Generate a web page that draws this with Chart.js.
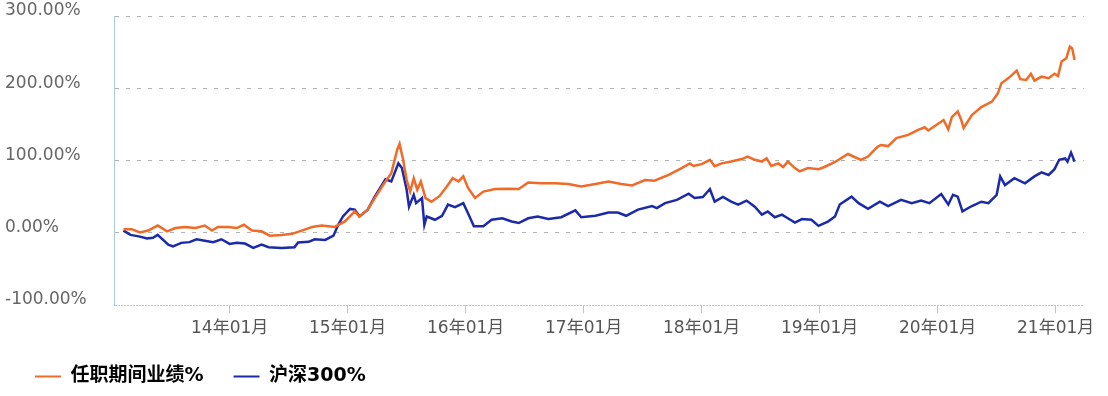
<!DOCTYPE html>
<html>
<head>
<meta charset="utf-8">
<script src="https://cdn.jsdelivr.net/npm/chart.js@4/dist/chart.umd.min.js"></script>
<style>
  html, body { margin: 0; padding: 0; background: #fff; }
  #wrap { width: 1108px; height: 396px; }
</style>
</head>
<body>
<div id="wrap"><canvas id="chart" width="1108" height="396"></canvas></div>
<script>
// 任职期间业绩 vs 沪深300, cumulative return %
const seriesNames = ['任职期间业绩%', '沪深300%'];
const tickYears = [2014, 2015, 2016, 2017, 2018, 2019, 2020, 2021];
const tickLabels = ['14年01月', '15年01月', '16年01月', '17年01月', '18年01月', '19年01月', '20年01月', '21年01月'];
const yTicks = [-100, 0, 100, 200, 300];

// decimal year -> value (%)
const fundT = [
  2013.10, 2013.17, 2013.24, 2013.31, 2013.39, 2013.47, 2013.54, 2013.62, 2013.71, 2013.79, 2013.85, 2013.90, 2013.99,
  2014.06, 2014.12, 2014.19, 2014.27, 2014.34, 2014.44, 2014.53, 2014.61, 2014.70, 2014.78, 2014.89, 2014.98,
  2015.06, 2015.10, 2015.17, 2015.23, 2015.30, 2015.37, 2015.42, 2015.44, 2015.47, 2015.50, 2015.53, 2015.56, 2015.59, 2015.62, 2015.66, 2015.71, 2015.78, 2015.84, 2015.89, 2015.94, 2015.98,
  2016.02, 2016.08, 2016.15, 2016.25, 2016.36, 2016.45, 2016.53, 2016.64, 2016.76, 2016.87, 2016.98,
  2017.10, 2017.21, 2017.32, 2017.41, 2017.52, 2017.60, 2017.72, 2017.83, 2017.90, 2017.93,
  2018.00, 2018.07, 2018.11, 2018.17, 2018.25, 2018.34, 2018.39, 2018.45, 2018.51, 2018.55, 2018.59, 2018.65, 2018.69, 2018.73, 2018.79, 2018.83, 2018.90, 2018.99,
  2019.04, 2019.13, 2019.24, 2019.30, 2019.35, 2019.41, 2019.49, 2019.52, 2019.58, 2019.65, 2019.75, 2019.83, 2019.89, 2019.92, 2019.97,
  2020.05, 2020.09, 2020.12, 2020.17, 2020.20, 2020.22, 2020.29, 2020.37, 2020.46, 2020.51, 2020.54, 2020.60, 2020.67, 2020.70, 2020.75, 2020.79, 2020.82, 2020.88, 2020.94, 2020.99,
  2021.02, 2021.05, 2021.09, 2021.12, 2021.14, 2021.16
];
const fundV = [
  5, 5, 0.5, 3, 10, 2, 6.5, 8, 6.5, 10, 3, 8, 8,
  6.5, 11, 3, 2, -4, -3, -1.5, 3, 8, 10, 8, 16,
  29.5, 22.5, 32, 48, 66, 82.5, 115, 123, 101, 73, 57, 75.5, 59.5, 71, 48, 43, 51, 64, 75.5, 71, 78,
  62, 48, 57, 60.5, 61, 60.5, 69.5, 68.5, 68.5, 67.5, 64,
  67.5, 71, 67.5, 65.5, 73, 72, 80, 89.5, 96, 92.5,
  95, 101, 92, 96, 98.5, 102, 105.5, 101, 98.5, 103, 92.5, 96, 91, 98.5, 89.5, 85, 89.5, 88,
  91, 98, 109, 104.5, 101, 105.5, 119, 121.5, 120, 131, 135.5, 142, 146, 141.5, 147,
  156, 143, 160, 168, 156, 145, 163, 174, 181.5, 193, 207, 214, 224.5, 212.5, 211.5, 220, 210.5, 216, 214, 220,
  217, 237, 241.5, 257.5, 255, 239
];

const hs300T = [
  2013.10, 2013.16, 2013.23, 2013.30, 2013.35, 2013.39, 2013.48, 2013.52, 2013.59, 2013.66, 2013.72, 2013.79, 2013.86, 2013.93,
  2014.00, 2014.06, 2014.13, 2014.20, 2014.27, 2014.33, 2014.44, 2014.55, 2014.58, 2014.67, 2014.72, 2014.81, 2014.88, 2014.92, 2014.96,
  2015.02, 2015.06, 2015.10, 2015.17, 2015.23, 2015.32, 2015.37, 2015.43, 2015.46, 2015.50, 2015.52, 2015.56, 2015.58, 2015.63, 2015.65, 2015.67, 2015.74, 2015.80, 2015.85, 2015.91, 2015.98,
  2016.02, 2016.07, 2016.15, 2016.22, 2016.31, 2016.39, 2016.45, 2016.53, 2016.61, 2016.70, 2016.81, 2016.93, 2016.98,
  2017.10, 2017.21, 2017.29, 2017.36, 2017.46, 2017.58, 2017.62, 2017.69, 2017.79, 2017.89, 2017.94,
  2018.01, 2018.07, 2018.11, 2018.18, 2018.25, 2018.31, 2018.38, 2018.45, 2018.51, 2018.56, 2018.62, 2018.68, 2018.73, 2018.79, 2018.85, 2018.93, 2018.99,
  2019.07, 2019.13, 2019.17, 2019.27, 2019.33, 2019.41, 2019.51, 2019.58, 2019.69, 2019.78, 2019.86, 2019.93,
  2020.03, 2020.09, 2020.13, 2020.17, 2020.21, 2020.29, 2020.37, 2020.43, 2020.50, 2020.53, 2020.57, 2020.65, 2020.74, 2020.82, 2020.88, 2020.94, 2020.99,
  2021.03, 2021.08, 2021.10, 2021.13, 2021.16
];
const hs300V = [
  3, -3, -5, -8, -7, -3, -16.5, -19, -14, -13, -9, -11, -13, -9,
  -15.5, -14, -15, -21, -16.5, -20, -21, -20, -13.5, -12.5, -9, -10, -4, 11, 22.5,
  33, 32, 22.5, 32, 50, 74, 71, 96, 89.5, 59.5, 36, 52.5, 41, 48, 11, 22.5, 18, 23.5, 39, 35.5, 41,
  27, 9, 9, 18, 20, 15.5, 13.5, 20, 22.5, 19, 21.5, 31, 21.5,
  23.5, 28, 28, 23.5, 32, 37, 34, 41, 45.5, 54, 48,
  49.5, 60.5, 43, 49.5, 43, 39, 44.5, 36, 25, 29.5, 21.5, 25, 20, 14, 19, 18, 9.5,
  15.5, 22.5, 39, 50, 41, 33, 43, 37, 45.5, 41, 44.5, 41,
  53.5, 39, 52.5, 50, 29.5, 37, 43, 41, 52.5, 78, 66, 75.5, 68.5, 78, 83.5, 80, 88,
  101, 103, 98.5, 111, 98.5
];

const FONT = "'DejaVu Sans', 'Noto Sans CJK SC', sans-serif";
const AXIS_BLUE = '#a9cbe0';

function toPoints(ts, vs) {
  return ts.map((t, i) => ({ x: t, y: vs[i] }));
}

new Chart(document.getElementById('chart'), {
  type: 'line',
  data: {
    datasets: [
      {
        label: seriesNames[0],
        data: toPoints(fundT, fundV),
        borderColor: '#f06a28',
        backgroundColor: '#f06a28',
        borderWidth: 2.5,
        pointRadius: 0,
        tension: 0
      },
      {
        label: seriesNames[1],
        data: toPoints(hs300T, hs300V),
        borderColor: '#1b2aa8',
        backgroundColor: '#1b2aa8',
        borderWidth: 2.5,
        pointRadius: 0,
        tension: 0
      }
    ]
  },
  options: {
    responsive: false,
    animation: false,
    layout: { padding: { left: 5, right: 24, top: 16, bottom: 0 } },
    plugins: {
      tooltip: { enabled: false },
      legend: {
        position: 'bottom',
        align: 'start',
        labels: {
          boxWidth: 26,
          boxHeight: 2,
          padding: 30,
          color: '#333',
          font: { family: FONT, size: 19, weight: 'bold' },
          generateLabels(chart) {
            return chart.data.datasets.map((ds, i) => ({
              text: ds.label,
              fillStyle: ds.borderColor,
              strokeStyle: ds.borderColor,
              lineWidth: 0,
              datasetIndex: i
            }));
          }
        }
      }
    },
    scales: {
      x: {
        type: 'linear',
        min: 2013.02,
        max: 2021.24,
        afterBuildTicks(scale) {
          scale.ticks = tickYears.map(v => ({ value: v }));
        },
        afterFit(scale) { scale.height = 32; },
        ticks: {
          autoSkip: false,
          maxRotation: 0,
          padding: 5,
          color: '#555',
          font: { family: FONT, size: 17 },
          callback(value) {
            const i = tickYears.indexOf(value);
            return i >= 0 ? tickLabels[i] : '';
          }
        },
        grid: {
          drawOnChartArea: false,
          drawTicks: true,
          tickLength: 8,
          color: AXIS_BLUE
        },
        border: { display: false }
      },
      y: {
        min: -100,
        max: 300,
        afterBuildTicks(scale) {
          scale.ticks = yTicks.map(v => ({ value: v }));
        },
        afterFit(scale) { scale.width = 109; },
        ticks: {
          crossAlign: 'far',
          labelOffset: -5,
          color: '#666',
          font: { family: FONT, size: 17 },
          callback(value) { return value.toFixed(2) + '%'; }
        },
        grid: {
          drawTicks: false,
          lineWidth: 1,
          color(ctx) {
            if (ctx.tick && ctx.tick.value === -100) return AXIS_BLUE;
            return '#b4b4b4';
          }
        },
        border: {
          display: true,
          color: AXIS_BLUE,
          width: 1,
          dash(ctx) {
            if (ctx.tick && ctx.tick.value === -100) return [2, 1];
            return [4, 7];
          }
        }
      }
    }
  }
});
</script>
</body>
</html>
